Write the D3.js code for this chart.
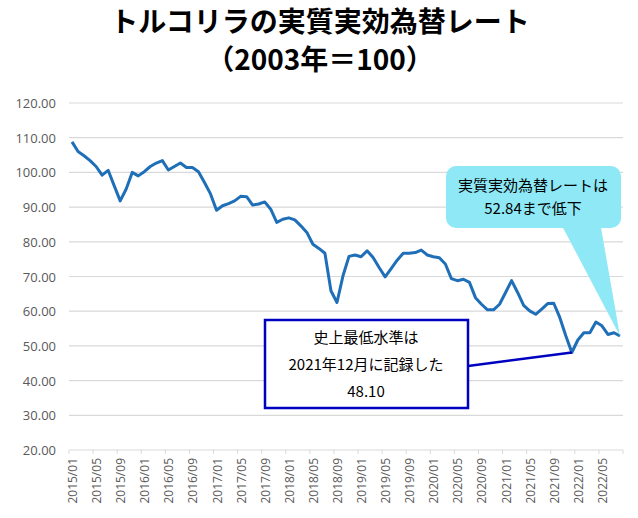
<!DOCTYPE html>
<html><head><meta charset="utf-8">
<script src="https://cdn.jsdelivr.net/npm/d3@7"></script>
<style>body{margin:0;background:#fff}</style>
</head><body>
<svg id="chart" width="638" height="518"></svg>
<script>
const values = [108.8,106,104.8,103.4,101.7,99.2,100.6,96.2,91.8,95.2,100,99,
  100.2,101.7,102.7,103.4,100.7,101.7,102.7,101.4,101.4,100.2,97.1,93.8,
  89.1,90.4,91,91.8,93.1,93,90.6,90.9,91.5,89.4,85.6,86.5,
  86.9,86.3,84.6,82.7,79.3,78.1,76.7,65.9,62.5,70.2,75.8,76.2,
  75.7,77.4,75.5,72.6,69.9,72.3,74.7,76.7,76.7,76.9,77.6,76.2,
  75.7,75.4,73.6,69.4,68.8,69.2,68.3,63.9,62,60.4,60.4,62,
  65.4,68.8,65.4,61.7,60.1,59.1,60.6,62.2,62.3,58.2,52.9,48.1,
  51.7,53.8,53.8,56.9,55.8,53.3,53.8,52.84];
const months = values.map((v, i) => {
  const yr = 2015 + Math.floor(i / 12), m = i % 12 + 1;
  return `${yr}/${String(m).padStart(2, '0')}`;
});
const yTicks = [20,30,40,50,60,70,80,90,100,110,120];

const svg = d3.select('#chart');
const font = "'Noto Sans CJK JP', 'Noto Sans', sans-serif";
const plotLeft = 69, plotRight = 623, plotTop = 103, plotBottom = 450;

svg.append('text').attr('x', 320).attr('y', 32).attr('text-anchor', 'middle')
  .attr('font-family', font).attr('font-weight', 'bold').attr('font-size', 28)
  .text('トルコリラの実質実効為替レート');
svg.append('text').attr('x', 320).attr('y', 70).attr('text-anchor', 'middle')
  .attr('font-family', font).attr('font-weight', 'bold').attr('font-size', 28)
  .text('（2003年＝100）');

const x = d3.scalePoint().domain(months).range([plotLeft, plotRight]).padding(0.5);
const y = d3.scaleLinear().domain([20, 120]).range([plotBottom, plotTop]);

svg.append('g').selectAll('line').data(yTicks.slice(1)).join('line')
  .attr('x1', plotLeft).attr('x2', plotRight).attr('y1', d => y(d)).attr('y2', d => y(d))
  .attr('stroke', '#d9d9d9').attr('stroke-width', 1.2);

svg.append('g').selectAll('text').data(yTicks).join('text')
  .attr('x', 56).attr('y', d => y(d) + 5).attr('text-anchor', 'end')
  .attr('font-family', "'Open Sans', sans-serif").attr('font-size', 13).attr('fill', '#595959')
  .text(d => d.toFixed(2));

svg.append('line').attr('x1', plotLeft).attr('x2', plotRight).attr('y1', plotBottom).attr('y2', plotBottom)
  .attr('stroke', '#d9d9d9').attr('stroke-width', 1.2);
const tickMonths = months.filter((m, i) => i % 4 === 0);
svg.append('g').selectAll('line').data(months.concat(['end'])).join('line')
  .attr('x1', (d, i) => plotLeft + i * x.step()).attr('x2', (d, i) => plotLeft + i * x.step())
  .attr('y1', plotBottom).attr('y2', plotBottom + 4)
  .attr('stroke', (d, i) => i % 4 === 0 || i === months.length ? '#d9d9d9' : 'none');
svg.append('g').selectAll('text').data(tickMonths).join('text')
  .attr('transform', d => `translate(${x(d) + 5},${plotBottom + 8}) rotate(-90)`)
  .attr('text-anchor', 'end')
  .attr('font-family', "'Open Sans', sans-serif").attr('font-size', 12).attr('fill', '#595959')
  .text(d => d);

svg.append('path').datum(values)
  .attr('d', d3.line().x((d, i) => x(months[i])).y(d => y(d)))
  .attr('fill', 'none').attr('stroke', '#1f6fb8').attr('stroke-width', 3)
  .attr('stroke-linejoin', 'round');

// minimum annotation
const iMin = values.indexOf(d3.min(values));
svg.append('line').attr('x1', 468).attr('y1', 366)
  .attr('x2', x(months[iMin])).attr('y2', y(values[iMin]))
  .attr('stroke', '#0000c0').attr('stroke-width', 2.5);
svg.append('rect').attr('x', 265).attr('y', 320).attr('width', 203).attr('height', 88)
  .attr('fill', '#fff').attr('stroke', '#0000c0').attr('stroke-width', 2.5);
['史上最低水準は', '2021年12月に記録した', '48.10'].forEach((t, k) => {
  svg.append('text').attr('x', 366).attr('y', 343 + k * 27).attr('text-anchor', 'middle')
    .attr('font-family', font).attr('font-size', 15).text(t);
});

// last value callout
const iLast = values.length - 1;
const px = x(months[iLast]), py = y(values[iLast]);
svg.append('path').attr('d', `M560,222 L600,222 L${px},${py} Z`).attr('fill', '#8ee8f5');
svg.append('rect').attr('x', 446).attr('y', 166).attr('width', 175).attr('height', 62)
  .attr('rx', 10).attr('fill', '#8ee8f5');
['実質実効為替レートは', '52.84まで低下'].forEach((t, k) => {
  svg.append('text').attr('x', 533).attr('y', 191 + k * 23).attr('text-anchor', 'middle')
    .attr('font-family', font).attr('font-size', 15).text(t);
});
</script>
</body></html>
